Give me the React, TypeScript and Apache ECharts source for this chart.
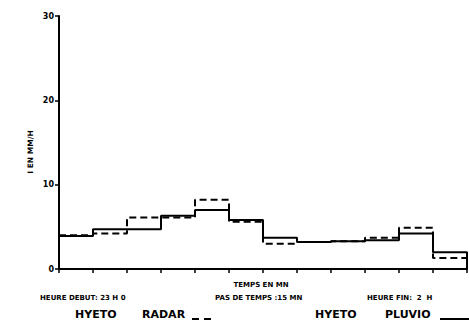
import React, { useEffect, useRef } from "react";
import * as echarts from "echarts";

const timeSteps = [0, 15, 30, 45, 60, 75, 90, 105, 120, 135, 150, 165];
const stepEnd = 180;
const radarValues = [4.0, 4.2, 6.1, 6.1, 8.2, 5.6, 3.0, 3.2, 3.3, 3.7, 4.9, 1.3];
const pluvioValues = [3.9, 4.7, 4.7, 6.3, 7.0, 5.8, 3.7, 3.2, 3.3, 3.4, 4.2, 2.0];
const yTicks = [0, 10, 20, 30];

const FONT = "'DejaVu Sans', sans-serif";

function stepData(values: number[], closeToZero: boolean) {
  const pts: number[][] = timeSteps.map((t, i) => [t, values[i]]);
  pts.push([stepEnd, values[values.length - 1]]);
  if (closeToZero) pts.push([stepEnd, 0]);
  return pts;
}

export default function App() {
  const ref = useRef<HTMLDivElement>(null);
  useEffect(() => {
    if (!ref.current) return;
    const chart = echarts.init(ref.current, null, { renderer: "svg" });
    const small = { fontFamily: FONT, fontWeight: "bold" as const, fontSize: 7, fill: "#000" };
    const big = { fontFamily: FONT, fontWeight: "bold" as const, fontSize: 11, fill: "#000" };
    chart.setOption({
      animation: false,
      backgroundColor: "#fff",
      grid: { left: 59, right: 2, top: 16, bottom: 56 },
      xAxis: {
        type: "value",
        min: 0,
        max: stepEnd,
        interval: 15,
        axisLine: { show: true, lineStyle: { color: "#000", width: 2 } },
        axisTick: { show: true, length: 4, lineStyle: { color: "#000", width: 1.5 } },
        axisLabel: { show: false },
        splitLine: { show: false },
      },
      yAxis: {
        type: "value",
        min: yTicks[0],
        max: yTicks[yTicks.length - 1],
        interval: 10,
        axisLine: { show: true, lineStyle: { color: "#000", width: 2 } },
        axisTick: { show: true, length: 4, lineStyle: { color: "#000", width: 1.5 } },
        axisLabel: {
          color: "#000",
          fontFamily: FONT,
          fontWeight: "bold",
          fontSize: 8,
          margin: 5,
        },
        splitLine: { show: false },
      },
      series: [
        {
          name: "HYETO RADAR",
          type: "line",
          step: "end",
          symbol: "none",
          data: stepData(radarValues, false),
          lineStyle: { color: "#000", width: 2, type: [7, 4] },
        },
        {
          name: "HYETO PLUVIO",
          type: "line",
          step: "end",
          symbol: "none",
          data: stepData(pluvioValues, true),
          lineStyle: { color: "#000", width: 2 },
        },
      ],
      graphic: [
        {
          type: "text",
          x: 30,
          y: 152,
          rotation: Math.PI / 2,
          style: { ...small, fontSize: 7.5, text: "I EN MM/H", align: "center", verticalAlign: "middle" },
        },
        {
          type: "text",
          x: 261,
          y: 285,
          style: { ...small, text: "TEMPS EN MN", align: "center", verticalAlign: "middle" },
        },
        {
          type: "text",
          x: 40,
          y: 298,
          style: { ...small, text: "HEURE DEBUT: 23 H 0", verticalAlign: "middle" },
        },
        {
          type: "text",
          x: 215,
          y: 298,
          style: { ...small, text: "PAS DE TEMPS :15 MN", verticalAlign: "middle" },
        },
        {
          type: "text",
          x: 367,
          y: 298,
          style: { ...small, text: "HEURE FIN:  2  H", verticalAlign: "middle" },
        },
        {
          type: "text",
          x: 75,
          y: 314,
          style: { ...big, text: "HYETO", verticalAlign: "middle" },
        },
        {
          type: "text",
          x: 142,
          y: 314,
          style: { ...big, text: "RADAR", verticalAlign: "middle" },
        },
        {
          type: "line",
          shape: { x1: 192, y1: 319, x2: 212, y2: 319 },
          style: { stroke: "#000", lineWidth: 2, lineDash: [7, 5] },
        },
        {
          type: "text",
          x: 315,
          y: 314,
          style: { ...big, text: "HYETO", verticalAlign: "middle" },
        },
        {
          type: "text",
          x: 385,
          y: 314,
          style: { ...big, text: "PLUVIO", verticalAlign: "middle" },
        },
        {
          type: "line",
          shape: { x1: 440, y1: 319, x2: 469, y2: 319 },
          style: { stroke: "#000", lineWidth: 2 },
        },
      ],
    });
    return () => chart.dispose();
  }, []);
  return (
    <div
      ref={ref}
      style={{ position: "absolute", left: 0, top: 0, width: 469, height: 325 }}
    />
  );
}
